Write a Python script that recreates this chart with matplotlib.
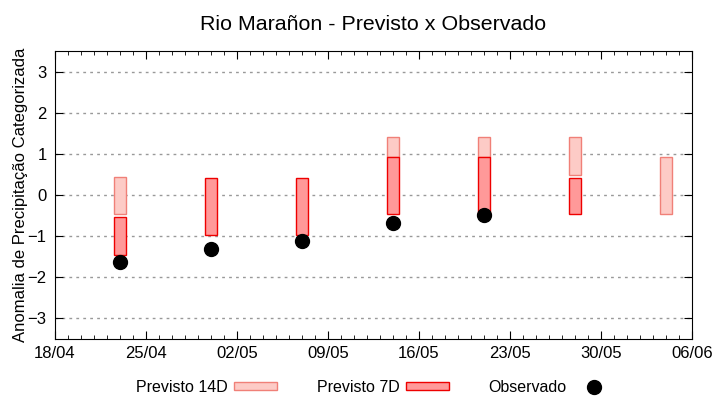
import datetime as dt

import matplotlib
matplotlib.use("Agg")
import matplotlib.pyplot as plt
import matplotlib.dates as mdates
from matplotlib.lines import Line2D
from matplotlib.patches import Patch

plt.rcParams["font.family"] = ["Liberation Sans", "DejaVu Sans"]

# forecast / observation dates (day, month)
dates = [(23, 4), (30, 4), (7, 5), (14, 5), (21, 5), (28, 5), (4, 6)]
# 14-day forecast range (low, high); None where not drawn
prev14_low = [-0.46, None, None, 0.92, 0.92, 0.48, -0.47]
prev14_high = [0.43, None, None, 1.42, 1.42, 1.42, 0.93]
# 7-day forecast range
prev7_low = [-1.46, -0.97, -0.97, -0.47, -0.45, -0.46, None]
prev7_high = [-0.53, 0.42, 0.42, 0.92, 0.92, 0.42, None]
# observed anomaly
observed = [-1.64, -1.31, -1.12, -0.67, -0.49, None, None]
# x tick dates (day, month)
tick_dates = [(18, 4), (25, 4), (2, 5), (9, 5), (16, 5), (23, 5), (30, 5), (6, 6)]

days = [dt.datetime(2024, m, d) for d, m in dates]
ticks = [dt.datetime(2024, m, d) for d, m in tick_dates]

fig = plt.figure(figsize=(7.2, 4.0), dpi=100)
ax = fig.add_axes([55 / 720, 1 - 339 / 400, 637 / 720, 288 / 400])

for day, lo, hi in zip(days, prev14_low, prev14_high):
    if lo is None:
        continue
    ax.bar(day, hi - lo, bottom=lo, width=0.9, color="#fdcbc6",
           edgecolor="#f08078", linewidth=1.0, zorder=2)
for day, lo, hi in zip(days, prev7_low, prev7_high):
    if lo is None:
        continue
    ax.bar(day, hi - lo, bottom=lo, width=0.9, color="#ff9999",
           edgecolor="#ee0000", linewidth=1.0, zorder=3)
obs_days = [d for d, o in zip(days, observed) if o is not None]
obs_vals = [o for o in observed if o is not None]
ax.plot(obs_days, obs_vals, "o", color="black", ms=10, zorder=4)

ax.set_xlim(ticks[0], ticks[-1])
ax.set_ylim(-3.5, 3.5)
ax.set_yticks(range(-3, 4))
ax.set_xticks(ticks)
ax.xaxis.set_major_formatter(mdates.DateFormatter("%d/%m"))
ax.xaxis.set_minor_locator(mdates.DayLocator())
ax.tick_params(axis="both", which="both", direction="in", top=True, right=True,
               labelsize=12)
ax.tick_params(axis="x", which="major", length=6, pad=5)
ax.tick_params(axis="x", which="minor", length=3)
ax.tick_params(axis="y", which="major", length=6, pad=6)
ax.grid(axis="y", linestyle=(0, (2, 3)), color="#999999", linewidth=1.0)
ax.set_axisbelow(True)

ax.set_ylabel("Anomalia de Precipitação Categorizada", fontsize=12, labelpad=0)
ax.set_title("Rio Marañon - Previsto x Observado", fontsize=15.4, pad=15)

handles = [
    Patch(facecolor="#fdcbc6", edgecolor="#f08078", linewidth=1.0),
    Patch(facecolor="#ff9999", edgecolor="#ee0000", linewidth=1.0),
    Line2D([], [], marker="o", linestyle="none", color="black", ms=10),
]
labels = ["Previsto 14D", "Previsto 7D", "Observado"]
fig.legend(handles, labels, loc="center", bbox_to_anchor=(0.522, 0.032), ncol=3,
           frameon=False, markerfirst=False, fontsize=11.5, handlelength=2.7,
           handleheight=0.45, columnspacing=2.45, handletextpad=0.4)

fig.savefig("out.png", dpi=100)
